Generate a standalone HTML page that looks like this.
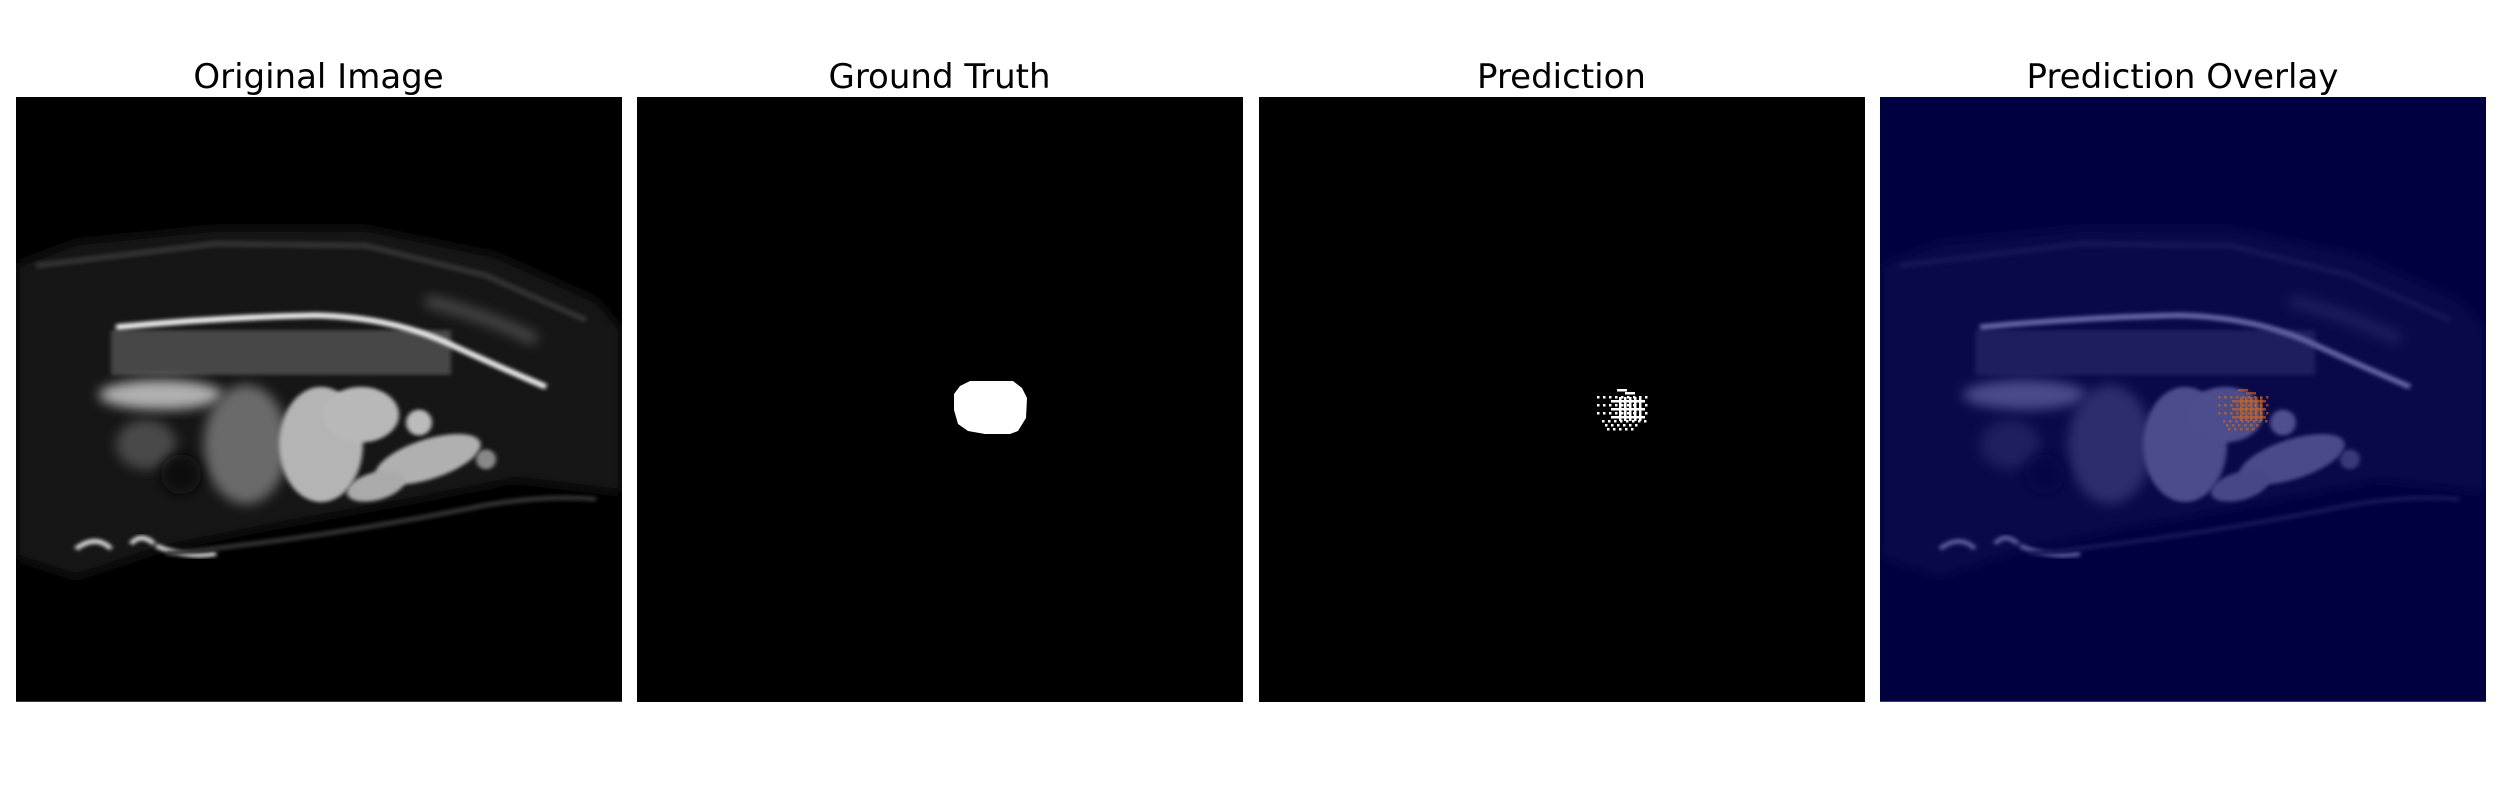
<!DOCTYPE html>
<html><head><meta charset="utf-8"><style>
html,body{margin:0;padding:0;background:#fff;width:2500px;height:800px;overflow:hidden}
svg{display:block}
text{font-family:"DejaVu Sans","Liberation Sans",sans-serif;font-size:34px;fill:#000}
</style></head><body>
<svg width="2500" height="800" viewBox="0 0 2500 800">
<defs>
<filter id="b2" x="-20%" y="-20%" width="140%" height="140%"><feGaussianBlur stdDeviation="2"/></filter>
<filter id="b6" x="-30%" y="-30%" width="160%" height="160%"><feGaussianBlur stdDeviation="6"/></filter>
<filter id="tint" color-interpolation-filters="sRGB"><feColorMatrix type="matrix" values="0.42 0 0 0 0  0 0.42 0 0 0  0 0 0.42 0 0.25  0 0 0 1 0"/></filter>
<clipPath id="pc"><rect x="0" y="0" width="606" height="621"/></clipPath>
<g id="mri" clip-path="url(#pc)">
  <rect x="0" y="0" width="606" height="621" fill="#000"/>
  <g transform="translate(0,14) scale(1,1.02)">
  <path d="M0,155 L60,132 L200,118 L350,118 L480,145 L580,190 L606,220 L606,385 L500,372 L400,392 L250,420 L150,440 L60,470 L0,450 Z" fill="#161616" filter="url(#b6)"/>
  <g transform="translate(0,16)">
  <path d="M20,140 L200,118 L350,120 L470,150 L570,195" stroke="#333" stroke-width="6" fill="none" filter="url(#b2)"/>
  <rect x="95" y="205" width="340" height="45" fill="#474747" filter="url(#b2)"/>
  <path d="M100,202 Q200,192 300,190 Q380,192 440,222 Q490,245 530,262" stroke="#e6e6e6" stroke-width="6" fill="none" filter="url(#b2)"/>
  <path d="M410,175 Q470,190 520,215" stroke="#4a4a4a" stroke-width="12" fill="none" filter="url(#b6)"/>
  <ellipse cx="145" cy="270" rx="62" ry="15" fill="#b0b0b0" filter="url(#b6)"/>
  <ellipse cx="230" cy="320" rx="42" ry="60" fill="#6a6a6a" filter="url(#b6)"/>
  <ellipse cx="130" cy="320" rx="30" ry="25" fill="#4a4a4a" filter="url(#b6)"/>
  <ellipse cx="165" cy="350" rx="20" ry="20" fill="#0a0a0a" filter="url(#b6)"/>
  <ellipse cx="305" cy="320" rx="42" ry="58" fill="#b4b4b4" filter="url(#b2)"/>
  <ellipse cx="345" cy="290" rx="38" ry="28" fill="#b8b8b8" filter="url(#b2)"/>
  <circle cx="403" cy="298" r="13" fill="#bbb" filter="url(#b2)"/>
  <ellipse cx="412" cy="335" rx="55" ry="20" fill="#b0b0b0" transform="rotate(-18 412 335)" filter="url(#b2)"/>
  <ellipse cx="360" cy="362" rx="30" ry="14" fill="#aaa" transform="rotate(-15 360 362)" filter="url(#b2)"/>
  <circle cx="470" cy="335" r="10" fill="#888" filter="url(#b2)"/>
  <path d="M60,425 Q80,410 95,425 M115,420 Q125,408 138,420 M140,422 Q170,435 200,430" stroke="#cfcfcf" stroke-width="5" fill="none" filter="url(#b2)"/>
  <path d="M150,430 Q300,415 450,385 Q520,370 580,375" stroke="#333" stroke-width="5" fill="none" filter="url(#b2)"/>
  </g>
  </g>
</g>
</defs>

<text x="318.5" y="88" text-anchor="middle">Original Image</text>
<text x="939.5" y="88" text-anchor="middle">Ground Truth</text>
<text x="1561.5" y="88" text-anchor="middle">Prediction</text>
<text x="2182.5" y="88" text-anchor="middle">Prediction Overlay</text>

<g transform="translate(16,97) scale(1,0.974)"><use href="#mri"/></g>

<g>
  <rect x="637" y="97" width="606" height="605" fill="#000"/>
  <path d="M970,381 L1013,381 L1022,388 L1027,398 L1026,418 L1018,431 L1010,434 L985,434 L968,431 L958,424 L954,410 L954,394 L960,386 Z" fill="#fff"/>
</g>

<g>
  <rect x="1259" y="97" width="606" height="605" fill="#000"/>
  <g id="pred"></g>
</g>

<g>
  <g transform="translate(1880,97) scale(1,0.974)" filter="url(#tint)"><use href="#mri"/></g>
  <g id="ovl"></g>
</g>
</svg>
<script>
// prediction mask rows: [y offset, x start, x end, dotted?]
const predRows = [
  [0, 20, 30, 0],[3,28,38,0],[7,0,50,1],[11,14,48,0],[15,0,50,1],[19,14,48,0],[23,0,50,1],[27,14,48,0],[31,5,48,1],[35,8,40,1],[39,10,38,1]
];
const predCols = [22,27,32,37,42];
function draw(group, ox, oy, color, op){
  const ns='http://www.w3.org/2000/svg';
  predRows.forEach(r=>{
    if(r[3]){
      for(let x=r[1];x<=r[2];x+=6){
        const d=document.createElementNS(ns,'rect');
        d.setAttribute('x',ox+x);d.setAttribute('y',oy+r[0]);d.setAttribute('width',2.5);d.setAttribute('height',2.5);
        d.setAttribute('fill',color);d.setAttribute('opacity',op);
        
        
        group.appendChild(d);
      }
    } else {
      const d=document.createElementNS(ns,'rect');
      d.setAttribute('x',ox+r[1]);d.setAttribute('y',oy+r[0]);d.setAttribute('width',r[2]-r[1]);d.setAttribute('height',2.5);
      d.setAttribute('fill',color);d.setAttribute('opacity',op);
      
      
      group.appendChild(d);
    }
  });
  predCols.forEach(c=>{
    const d=document.createElementNS(ns,'rect');
    d.setAttribute('x',ox+c);d.setAttribute('y',oy+8);d.setAttribute('width',2.5);d.setAttribute('height',24);
    d.setAttribute('fill',color);d.setAttribute('opacity',op);
    
    
    group.appendChild(d);
  });
}
draw(document.getElementById('pred'),1597,389,'#fff',1);
draw(document.getElementById('ovl'),2218,389,'#d2691e',0.6);
</script>
</body></html>
